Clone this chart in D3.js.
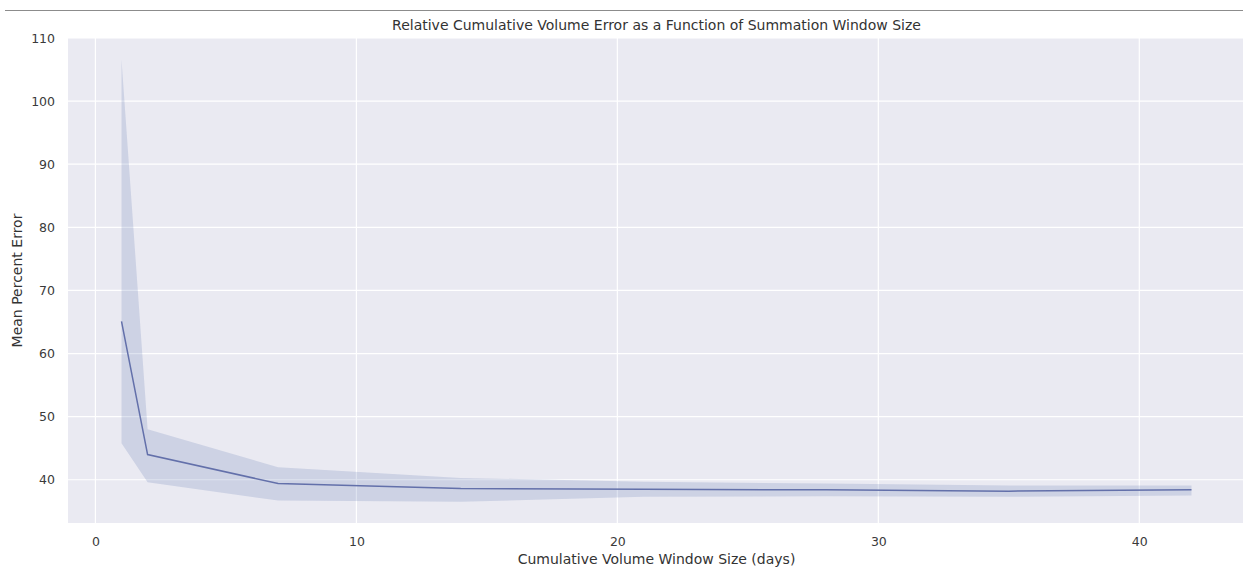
<!DOCTYPE html>
<html>
<head>
<meta charset="utf-8">
<script src="https://cdn.jsdelivr.net/npm/d3@7"></script>
<style>
	body { margin: 0; background: #fff; }
	text { font-family: "DejaVu Sans", sans-serif; }
</style>
</head>
<body>
<div id="chart"></div>
<script>
// window sizes (days) and mean percent error with its confidence band
var windowDays = [1, 2, 7, 14, 21, 28, 35, 42];
var meanError = [65.1, 44.0, 39.4, 38.6, 38.5, 38.4, 38.2, 38.4];
var lowerError = [45.8, 39.6, 36.7, 36.5, 37.3, 37.4, 37.3, 37.5];
var upperError = [106.6, 48.0, 42.0, 40.3, 39.7, 39.4, 39.1, 39.1];
var xTicks = [0, 10, 20, 30, 40];
var yTicks = [40, 50, 60, 70, 80, 90, 100, 110];

var w = 1243,
	h = 567,
	plotLeft = 68,
	plotRight = 1245,
	plotTop = 38,
	plotBottom = 523,
	lineColor = "#6370aa",
	bandColor = "#5873b0";

var svg = d3.select("#chart")
	.append("svg")
	.attr("width", w)
	.attr("height", h);

// notebook cell border line
svg.append("line")
	.attr("x1", 5).attr("x2", w)
	.attr("y1", 10.5).attr("y2", 10.5)
	.attr("stroke", "#8c8c8c")
	.attr("stroke-width", 1);

var x = d3.scaleLinear().domain([-1.05, 44.05]).range([plotLeft, plotRight]);
var y = d3.scaleLinear().domain([33.15, 110.0]).range([plotBottom, plotTop]);

svg.append("rect")
	.attr("x", plotLeft)
	.attr("y", plotTop)
	.attr("width", plotRight - plotLeft)
	.attr("height", plotBottom - plotTop)
	.attr("fill", "#eaeaf2");

var grid = svg.append("g");
grid.selectAll("line.vx")
	.data(xTicks)
	.enter().append("line")
	.attr("x1", function(d) { return x(d); })
	.attr("x2", function(d) { return x(d); })
	.attr("y1", plotTop).attr("y2", plotBottom)
	.attr("stroke", "#fff")
	.attr("stroke-width", 1.2);
grid.selectAll("line.hy")
	.data(yTicks)
	.enter().append("line")
	.attr("y1", function(d) { return y(d); })
	.attr("y2", function(d) { return y(d); })
	.attr("x1", plotLeft).attr("x2", plotRight)
	.attr("stroke", "#fff")
	.attr("stroke-width", 1.2);

var rows = windowDays.map(function(d, i) {
	return {x: d, m: meanError[i], lo: lowerError[i], hi: upperError[i]};
});

var band = d3.area()
	.x(function(d) { return x(d.x); })
	.y0(function(d) { return y(d.lo); })
	.y1(function(d) { return y(d.hi); });

svg.append("path")
	.datum(rows)
	.attr("d", band)
	.attr("fill", bandColor)
	.attr("fill-opacity", 0.2);

var line = d3.line()
	.x(function(d) { return x(d.x); })
	.y(function(d) { return y(d.m); });

svg.append("path")
	.datum(rows)
	.attr("d", line)
	.attr("fill", "none")
	.attr("stroke", lineColor)
	.attr("stroke-width", 1.5);

// axes (labels only)
var xAxis = svg.append("g")
	.attr("transform", "translate(0," + plotBottom + ")")
	.call(d3.axisBottom(x).tickValues(xTicks).tickSize(0).tickPadding(14));
var yAxis = svg.append("g")
	.attr("transform", "translate(" + plotLeft + ",0)")
	.call(d3.axisLeft(y).tickValues(yTicks).tickSize(0).tickPadding(13));

[xAxis, yAxis].forEach(function(a) {
	a.select(".domain").remove();
	a.selectAll("text")
		.attr("font-family", "DejaVu Sans, sans-serif")
		.attr("font-size", "12.5px")
		.attr("fill", "#3a3a3a");
});

svg.append("text")
	.attr("x", (plotLeft + plotRight) / 2)
	.attr("y", 30)
	.attr("text-anchor", "middle")
	.attr("font-size", "14px")
	.attr("fill", "#333")
	.text("Relative Cumulative Volume Error as a Function of Summation Window Size");

svg.append("text")
	.attr("x", (plotLeft + plotRight) / 2)
	.attr("y", 564)
	.attr("text-anchor", "middle")
	.attr("font-size", "14px")
	.attr("fill", "#333")
	.text("Cumulative Volume Window Size (days)");

svg.append("text")
	.attr("transform", "translate(22," + (plotTop + plotBottom) / 2 + ") rotate(-90)")
	.attr("text-anchor", "middle")
	.attr("font-size", "14px")
	.attr("fill", "#333")
	.text("Mean Percent Error");
</script>
</body>
</html>
